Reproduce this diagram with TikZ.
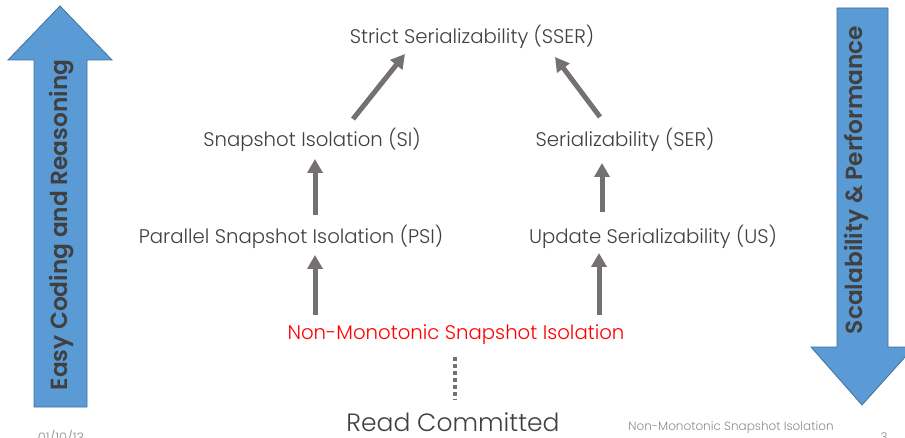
\documentclass[tikz,border=0pt]{standalone}
\usepackage{fontspec}
\setmainfont{Poppins}[UprightFont=* Light, BoldFont=* SemiBold]
\usetikzlibrary{arrows.meta}
\definecolor{txt}{HTML}{404040}
\definecolor{arr}{HTML}{767171}
\definecolor{blk}{HTML}{5B9BD5}
\definecolor{blkline}{HTML}{41719C}
\definecolor{foot}{HTML}{8C8C8C}
\tikzset{
  lvl/.style={text=txt, font=\fontsize{19.7}{22}\selectfont, inner sep=0pt},
  conn/.style={draw=arr, line width=5pt, -{Triangle[width=15pt,length=14pt]}},
  dotconn/.style={draw=arr, line width=4pt, dash pattern=on 4pt off 3pt},
  bigarrow/.style={fill=blk, draw=blkline, line width=0.8pt},
  bigtext/.style={text=txt, font=\bfseries\fontsize{23.3}{25}\selectfont, rotate=90, inner sep=0pt},
  foottext/.style={text=foot, inner sep=0pt}
}
\begin{document}
\begin{tikzpicture}[x=1pt,y=-1pt]
\useasboundingbox (0,0) rectangle (905,438);
\clip (0,0) rectangle (905,438);
% big arrows
\draw[bigarrow] (34,407) -- (34,60) -- (8,60) -- (60,6) -- (112,60) -- (87,60) -- (87,407) -- cycle;
\node[bigtext] (easy) at (62,225) {Easy Coding and Reasoning};
\draw[bigarrow] (837,8) -- (888,8) -- (888,347) -- (914,347) -- (862,405) -- (811,347) -- (837,347) -- cycle;
\node[bigtext] (scal) at (856,180) {Scalability \& Performance};
% levels
\node[lvl] (sser) at (472,37) {Strict Serializability (SSER)};
\node[lvl] (si) at (312,140) {Snapshot Isolation (SI)};
\node[lvl] (ser) at (625,140) {Serializability (SER)};
\node[lvl] (psi) at (291,237) {Parallel Snapshot Isolation (PSI)};
\node[lvl] (us) at (653,237) {Update Serializability (US)};
\node[lvl, text=red] (nmsi) at (456,335) {Non-Monotonic Snapshot Isolation};
\node[lvl, font=\fontsize{25}{27}\selectfont] (rc) at (453,422) {Read Committed};
% connectors
\draw[conn] ([shift={(41,-21)}]si.center) -- ([shift={(-67,17)}]sser.center);
\draw[conn] ([shift={(-25,-23)}]ser.center) -- ([shift={(83,20)}]sser.center);
\draw[conn] ([shift={(24,-22)}]psi.center) -- ([shift={(3,19)}]si.center);
\draw[conn] ([shift={(-51,-25)}]us.center) -- ([shift={(-23,23)}]ser.center);
\draw[conn] ([shift={(-141,-20)}]nmsi.center) -- ([shift={(24,18)}]psi.center);
\draw[conn] ([shift={(143,-20)}]nmsi.center) -- ([shift={(-54,16)}]us.center);
\draw[dotconn] ([shift={(-1,22)}]nmsi.center) -- ([shift={(2,-22)}]rc.center);
% footer
\node[foottext, font=\fontsize{13}{15}\selectfont] (date) at (61,437) {01/10/13};
\node[foottext, font=\fontsize{12}{14}\selectfont] (ftitle) at (731,428) {Non-Monotonic Snapshot Isolation};
\node[foottext, font=\fontsize{12}{14}\selectfont] (page) at (884,437) {3};
\end{tikzpicture}
\end{document}
